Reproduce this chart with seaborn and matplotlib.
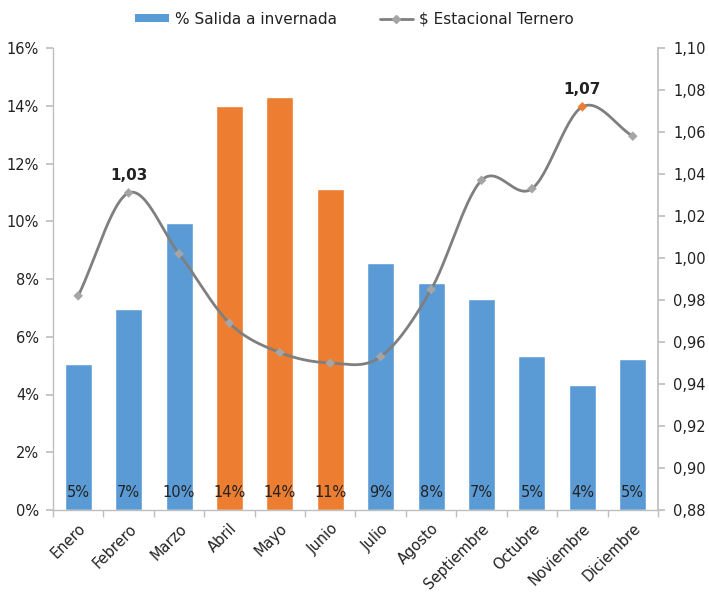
import numpy as np
import pandas as pd
import matplotlib
matplotlib.use("Agg")
import matplotlib.pyplot as plt
import matplotlib.ticker as mticker
from matplotlib.lines import Line2D
from matplotlib.patches import Patch
import seaborn as sns

months = ["Enero", "Febrero", "Marzo", "Abril", "Mayo", "Junio", "Julio",
          "Agosto", "Septiembre", "Octubre", "Noviembre", "Diciembre"]
salida = [0.0505, 0.0695, 0.0993, 0.1400, 0.1430, 0.1110, 0.0855,
          0.0785, 0.0732, 0.0533, 0.0432, 0.0522]
estacional = [0.982, 1.031, 1.002, 0.969, 0.955, 0.950, 0.953,
              0.985, 1.037, 1.033, 1.072, 1.058]
highlight = ["Abril", "Mayo", "Junio"]
label_points = {"Febrero": "1,03", "Noviembre": "1,07"}

BLUE = "#5B9BD5"
ORANGE = "#ED7D31"
LINE = "#7F7F7F"
MARK = "#A5A5A5"
SPINE = "#BFBFBF"
TXT = "#222222"

sns.set_theme(style="white")
plt.rcParams["font.family"] = ["DejaVu Sans"]

fig = plt.figure(figsize=(7.09, 5.94), dpi=100)
ax = fig.add_axes([53/709, 1-510/594, (658-53)/709, (510-48)/594])

df = pd.DataFrame({"mes": months, "salida": salida})
colors = {m: (ORANGE if m in highlight else BLUE) for m in months}
sns.barplot(data=df, x="mes", y="salida", hue="mes", palette=colors,
            legend=False, width=0.535, ax=ax, saturation=1)

ax.set_ylim(0, 0.16)
ax.set_xlim(-0.5, 11.5)
ax.yaxis.set_major_locator(mticker.MultipleLocator(0.02))
ax.yaxis.set_major_formatter(mticker.FuncFormatter(lambda v, p: f"{v*100:.0f}%"))
ax.set_xlabel("")
ax.set_ylabel("")
for i, v in enumerate(salida):
    ax.text(i, 0.0059, f"{v*100:.0f}%", ha="center", va="center",
            fontsize=10.5, color=TXT)

ax.set_xticks(range(12))
ax.set_xticklabels(months, rotation=45, ha="right", rotation_mode="anchor",
                   fontsize=10.5, color=TXT)
ax.xaxis.set_minor_locator(mticker.FixedLocator(np.arange(-0.5, 12, 1)))
ax.tick_params(axis="x", which="major", length=0, pad=8)
ax.tick_params(axis="x", which="minor", length=5, color=SPINE, direction="out", bottom=True)
ax.tick_params(axis="y", which="major", length=5, color=SPINE, direction="out",
               left=True, labelsize=10.5, labelcolor=TXT, pad=5)

for s in ["top", "right"]:
    ax.spines[s].set_visible(False)
for s in ["left", "bottom"]:
    ax.spines[s].set_color(SPINE)
    ax.spines[s].set_linewidth(1)

ax2 = ax.twinx()
ax2.set_ylim(0.88, 1.10)
ax2.yaxis.set_major_locator(mticker.MultipleLocator(0.02))
ax2.yaxis.set_major_formatter(mticker.FuncFormatter(lambda v, p: f"{v:.2f}".replace(".", ",")))
ax2.tick_params(axis="y", which="major", length=5, color=SPINE, direction="out",
                right=True, labelsize=10.5, labelcolor=TXT, pad=6)
for s in ["top", "left", "bottom"]:
    ax2.spines[s].set_visible(False)
ax2.spines["right"].set_color(SPINE)

# smooth curve (Catmull-Rom through data points)
x = np.arange(12, dtype=float)
y = np.array(estacional)
xs, ys = [], []
for i in range(11):
    p0 = y[i-1] if i > 0 else 2*y[0]-y[1]
    p1, p2 = y[i], y[i+1]
    p3 = y[i+2] if i+2 < 12 else 2*y[11]-y[10]
    t = np.linspace(0, 1, 30, endpoint=(i == 10))
    seg = 0.5*((2*p1) + (-p0+p2)*t + (2*p0-5*p1+4*p2-p3)*t**2 + (-p0+3*p1-3*p2+p3)*t**3)
    xs.extend(x[i] + t)
    ys.extend(seg)
curve = pd.DataFrame({"x": xs, "y": ys})
sns.lineplot(data=curve, x="x", y="y", sort=False, color=LINE, linewidth=2, ax=ax2)
mcolors = [ORANGE if m == "Noviembre" else MARK for m in months]
ax2.scatter(x, y, marker="D", s=24, c=mcolors, zorder=5, linewidths=0)
for m, lab in label_points.items():
    i = months.index(m)
    ax2.annotate(lab, (i, estacional[i]), xytext=(0, 7), textcoords="offset points",
                 ha="center", va="bottom", fontsize=11, fontweight="bold", color=TXT)
ax2.set_xlabel("")
ax2.set_ylabel("")

handles = [Patch(facecolor=BLUE, edgecolor="none"),
           Line2D([0], [0], color=LINE, linewidth=2, marker="D", markersize=4,
                  markerfacecolor=MARK, markeredgecolor=MARK)]
fig.legend(handles, ["% Salida a invernada", "$ Estacional Ternero"],
           loc="center", bbox_to_anchor=(0.5, 1-19/594), ncol=2, frameon=False,
           fontsize=11, handlelength=2.2, handleheight=0.5, columnspacing=2.8,
           handletextpad=0.4, labelcolor=TXT)

fig.savefig("out.png", dpi=100)
